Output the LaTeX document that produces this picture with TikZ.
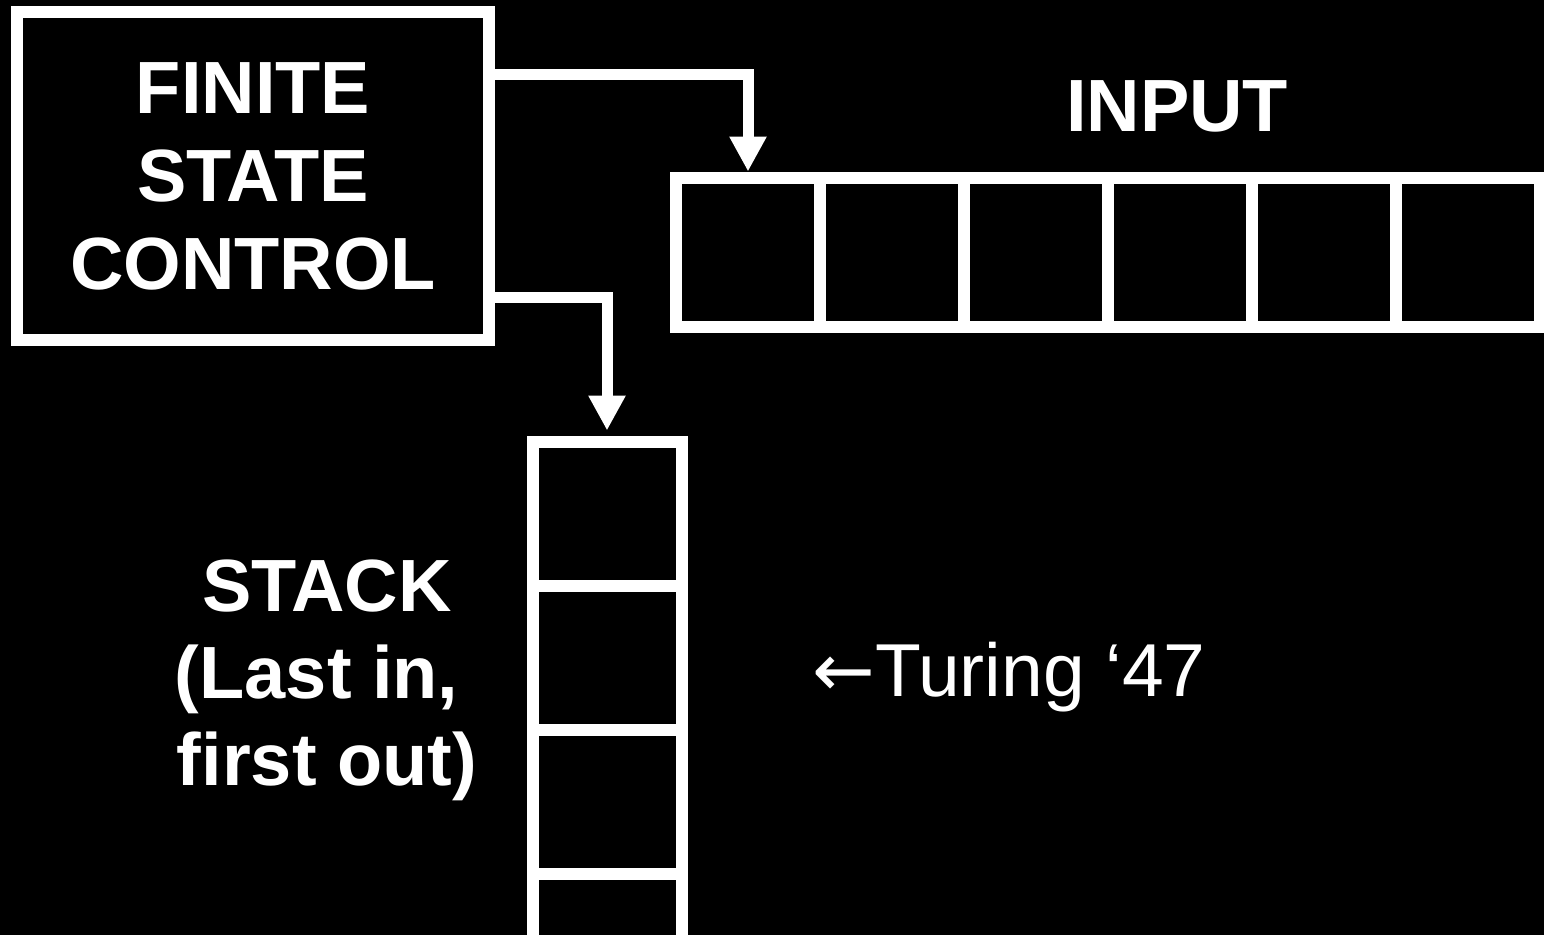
\documentclass[tikz,border=0pt]{standalone}
\usepackage{fontspec}
\setmainfont{Liberation Sans}
\newfontfamily\arrowfont{DejaVu Sans}
\usetikzlibrary{arrows.meta}

\begin{document}
\begin{tikzpicture}[x=1pt,y=-1pt,
  box/.style={draw=white,line width=12pt},
  cell/.style={box,minimum width=144pt,minimum height=149.5pt},
  stcell/.style={box,minimum width=149pt,minimum height=144pt},
  conn/.style={draw=white,line width=11pt,-{Triangle[width=35pt,length=35pt]}},
  big/.style={text=white,font=\fontsize{74}{88}\selectfont\bfseries,align=center}]
\fill[black] (0,0) rectangle (1544,935);
\useasboundingbox (0,0) rectangle (1544,935);
\clip (0,0) rectangle (1544,935);

\node[box,big,minimum width=472pt,minimum height=328pt] (fsc) at (253,176) {FINITE\\STATE\\CONTROL};
\node[big] (input) at (1177,106) {INPUT};

% tape and stack
\foreach \i in {1,...,6}
  \node[cell] (in\i) at ({604+144*\i},252.25) {};
\foreach \i in {1,...,4}
  \node[stcell] (st\i) at (607,{369.5+144*\i}) {};

\node[big,font=\fontsize{74}{87}\selectfont\bfseries] (stacklbl) at (327,680) {STACK\\(Last in,\kern.278em\\first out)};
\node[text=white,font=\fontsize{75}{90}\selectfont,anchor=base west,inner sep=0pt] (turing) at (812,696) {{\arrowfont ←}Turing ‘47};

\draw[conn] ([yshift=-68pt]fsc.north east) -| (in1.north);
\draw[conn,shorten >=5pt] ([yshift=48.5pt]fsc.south east) -| (st1.north);
\end{tikzpicture}
\end{document}
